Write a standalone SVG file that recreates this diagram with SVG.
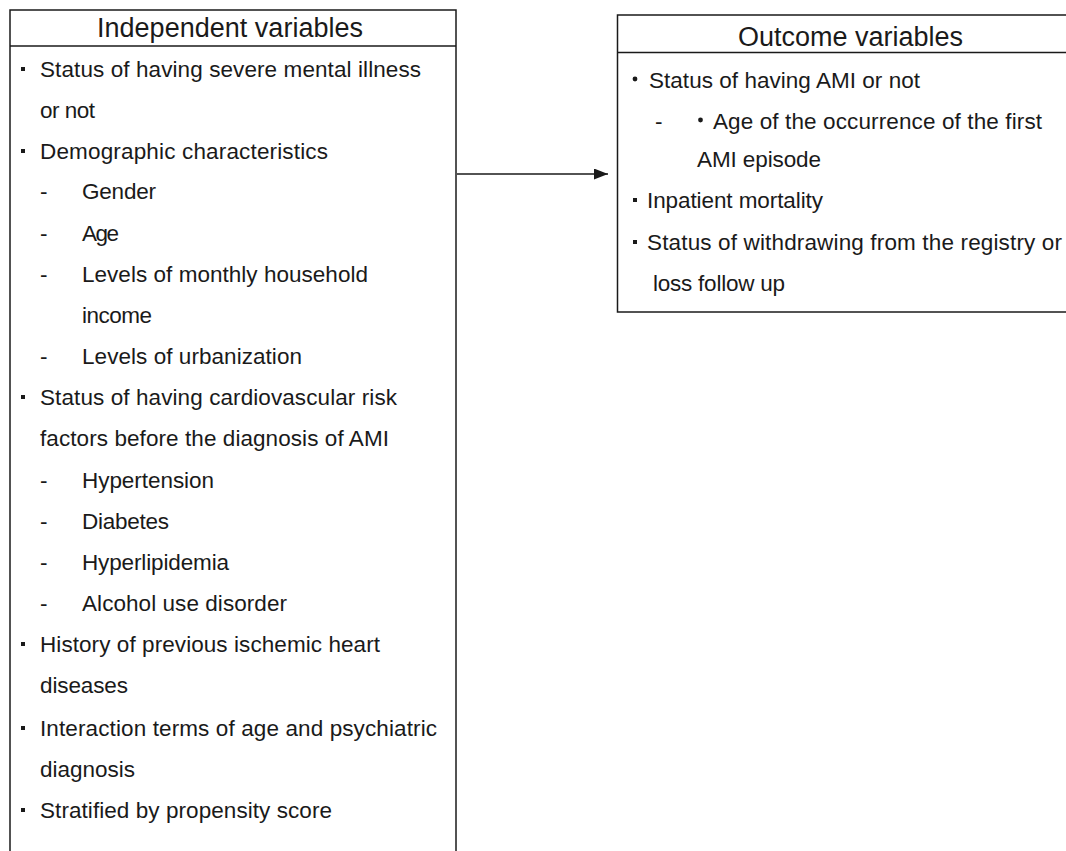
<svg xmlns="http://www.w3.org/2000/svg" width="1066" height="851" viewBox="0 0 1066 851">
  <style>
    .box { fill: #ffffff; stroke: #1a1a1a; stroke-width: 1.5; }
    .sep { stroke: #1a1a1a; stroke-width: 1.5; }
    .hd { font-family: "Liberation Sans", Arial, sans-serif; font-size: 27px; fill: #1a1a1a; }
    .tx { font-family: "Liberation Sans", Arial, sans-serif; font-size: 22.5px; fill: #1a1a1a; }
    .bul { fill: #1a1a1a; }
    .conn { stroke: #1a1a1a; stroke-width: 1.5; fill: none; }
  </style>
  <defs>
    <marker id="arrow" viewBox="0 0 14 11" refX="14" refY="5.5" markerWidth="14" markerHeight="11" markerUnits="userSpaceOnUse" orient="auto">
      <path d="M0,0 L14,5.5 L0,11 Z" fill="#1a1a1a"/>
    </marker>
  </defs>
  <rect width="1066" height="851" fill="#ffffff"/>

  <g id="independent-variables">
    <rect class="box" x="10" y="10" width="446" height="860"/>
    <line class="sep" x1="10" y1="46" x2="456" y2="46"/>
    <text class="hd" x="97" y="37" textLength="266" lengthAdjust="spacing">Independent variables</text>
    <rect class="bul" x="21" y="67" width="4" height="4"/>
    <text class="tx" x="40" y="77" textLength="381" lengthAdjust="spacing">Status of having severe mental illness</text>
    <text class="tx" x="40" y="118" textLength="55" lengthAdjust="spacing">or not</text>
    <rect class="bul" x="21" y="149" width="4" height="4"/>
    <text class="tx" x="40" y="159" textLength="288" lengthAdjust="spacing">Demographic characteristics</text>
    <text class="tx" x="40" y="199">-</text>
    <text class="tx" x="82" y="199" textLength="74" lengthAdjust="spacing">Gender</text>
    <text class="tx" x="40" y="241">-</text>
    <text class="tx" x="82" y="241" textLength="37" lengthAdjust="spacing">Age</text>
    <text class="tx" x="40" y="282">-</text>
    <text class="tx" x="82" y="282" textLength="286" lengthAdjust="spacing">Levels of monthly household</text>
    <text class="tx" x="82" y="323" textLength="70" lengthAdjust="spacing">income</text>
    <text class="tx" x="40" y="364">-</text>
    <text class="tx" x="82" y="364" textLength="220" lengthAdjust="spacing">Levels of urbanization</text>
    <rect class="bul" x="21" y="395" width="4" height="4"/>
    <text class="tx" x="40" y="405" textLength="357" lengthAdjust="spacing">Status of having cardiovascular risk</text>
    <text class="tx" x="40" y="446" textLength="349" lengthAdjust="spacing">factors before the diagnosis of AMI</text>
    <text class="tx" x="40" y="488">-</text>
    <text class="tx" x="82" y="488" textLength="132" lengthAdjust="spacing">Hypertension</text>
    <text class="tx" x="40" y="529">-</text>
    <text class="tx" x="82" y="529" textLength="87" lengthAdjust="spacing">Diabetes</text>
    <text class="tx" x="40" y="570">-</text>
    <text class="tx" x="82" y="570" textLength="147" lengthAdjust="spacing">Hyperlipidemia</text>
    <text class="tx" x="40" y="611">-</text>
    <text class="tx" x="82" y="611" textLength="205" lengthAdjust="spacing">Alcohol use disorder</text>
    <rect class="bul" x="21" y="642" width="4" height="4"/>
    <text class="tx" x="40" y="652" textLength="340" lengthAdjust="spacing">History of previous ischemic heart</text>
    <text class="tx" x="40" y="693" textLength="88" lengthAdjust="spacing">diseases</text>
    <rect class="bul" x="21" y="726" width="4" height="4"/>
    <text class="tx" x="40" y="736" textLength="397" lengthAdjust="spacing">Interaction terms of age and psychiatric</text>
    <text class="tx" x="40" y="777" textLength="95" lengthAdjust="spacing">diagnosis</text>
    <rect class="bul" x="21" y="808" width="4" height="4"/>
    <text class="tx" x="40" y="818" textLength="292" lengthAdjust="spacing">Stratified by propensity score</text>
  </g>

  <g id="outcome-variables">
    <rect class="box" x="617.5" y="15" width="470" height="297"/>
    <line class="sep" x1="617.5" y1="52.5" x2="1087.5" y2="52.5"/>
    <text class="hd" x="738" y="46" textLength="225" lengthAdjust="spacing">Outcome variables</text>
    <circle class="bul" cx="635" cy="79" r="2.4"/>
    <text class="tx" x="649" y="88" textLength="271" lengthAdjust="spacing">Status of having AMI or not</text>
    <text class="tx" x="655" y="129">-</text>
    <circle class="bul" cx="700.5" cy="120" r="2.4"/>
    <text class="tx" x="713" y="129" textLength="329" lengthAdjust="spacing">Age of the occurrence of the first</text>
    <text class="tx" x="697" y="167" textLength="124" lengthAdjust="spacing">AMI episode</text>
    <rect class="bul" x="633" y="198" width="4" height="4"/>
    <text class="tx" x="647" y="208" textLength="176" lengthAdjust="spacing">Inpatient mortality</text>
    <rect class="bul" x="633" y="240" width="4" height="4"/>
    <text class="tx" x="647" y="250" textLength="415" lengthAdjust="spacing">Status of withdrawing from the registry or</text>
    <text class="tx" x="653" y="291" textLength="132" lengthAdjust="spacing">loss follow up</text>
  </g>

  <g id="connectors">
    <line class="conn" x1="457" y1="174" x2="608" y2="174" marker-end="url(#arrow)"/>
  </g>
</svg>
